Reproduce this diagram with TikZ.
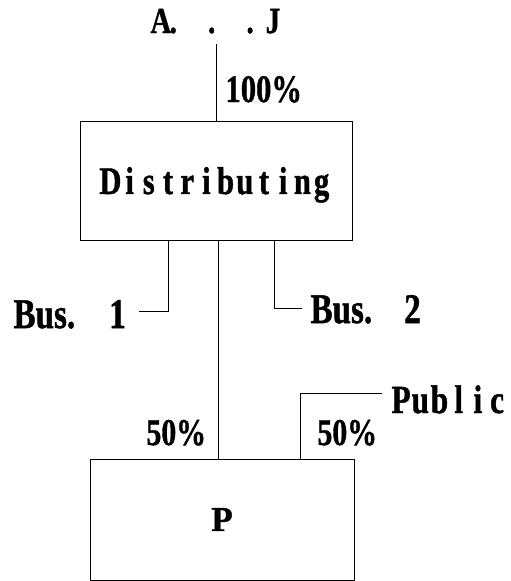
\documentclass[tikz,border=0pt]{standalone}
\usepackage{fontspec}
\setmainfont{Liberation Serif}[BoldFeatures={FakeBold=1.2}]
\newcommand\nar[1]{\scalebox{0.85}[1.08]{#1}}
\newlength\fwc
\setlength\fwc{19.2pt}
\newcommand\fwtext[1]{\fwloop#1\relax}
\def\fwloop#1{\ifx#1\relax\else\makebox[\fwc][c]{\nar{#1}}\expandafter\fwloop\fi}
\newcommand\fwl[1]{\makebox[\fwc][l]{\nar{#1}}}
\begin{document}
\begin{tikzpicture}[x=1pt,y=-1pt,line width=1pt,
  lbl/.style={inner sep=0pt,font=\bfseries\fontsize{34}{38}\selectfont},
  pctlbl/.style={inner sep=0pt,font=\bfseries\fontsize{35}{39}\selectfont},
  buslbl/.style={inner sep=0pt,font=\bfseries\fontsize{39}{43}\selectfont},
  publbl/.style={inner sep=0pt,font=\bfseries\fontsize{37}{41}\selectfont},
  boxnode/.style={draw,rectangle,inner sep=0pt,text depth=0pt}]
\useasboundingbox (0,0) rectangle (511,581);
% labels
\node[lbl,anchor=base west] (aj) at (150,33) {\fwl{A}\fwl{.}\fwl{}\fwl{.}\fwl{}\fwl{.}\fwl{J}};
\node[pctlbl,anchor=base west,font=\bfseries\fontsize{36}{40}\selectfont] (p100) at (225,102) {\nar{100\%}};
\node[boxnode,minimum width=272pt,minimum height=119pt,font=\bfseries\fontsize{36}{40}\selectfont] (dist) at (216,180.5) {\fwtext{Distributing}\hspace{-7pt}};
\node[boxnode,minimum width=264pt,minimum height=121pt,font=\bfseries\fontsize{35}{39}\selectfont] (pbox) at (222,519.5) {P};
\node[buslbl,anchor=base west] (bus1) at (13,328) {\nar{Bus.}\hspace{34pt}\nar{1}};
\node[buslbl,anchor=base west] (bus2) at (310,323) {\nar{Bus.}\hspace{32pt}\nar{2}};
\node[publbl,anchor=base west] (pub) at (391,413) {\fwtext{Public}};
\node[pctlbl,anchor=base west] (p50a) at (146,445) {\nar{50\%}};
\node[pctlbl,anchor=base west] (p50b) at (317,445) {\nar{50\%}};
% connector ends
\coordinate (ajbot) at (216,44);
\coordinate (bus1end) at (139,311);
\coordinate (bus2end) at (302,308);
\coordinate (pubend) at (382,393);
% connectors
\draw (ajbot) -- (dist.north);
\draw ([xshift=-48pt]dist.south) |- (bus1end);
\draw ([xshift=2pt]dist.south) -- ([xshift=-4pt]pbox.north);
\draw ([xshift=58pt]dist.south) |- (bus2end);
\draw ([xshift=78pt]pbox.north) |- (pubend);
\end{tikzpicture}
\end{document}
